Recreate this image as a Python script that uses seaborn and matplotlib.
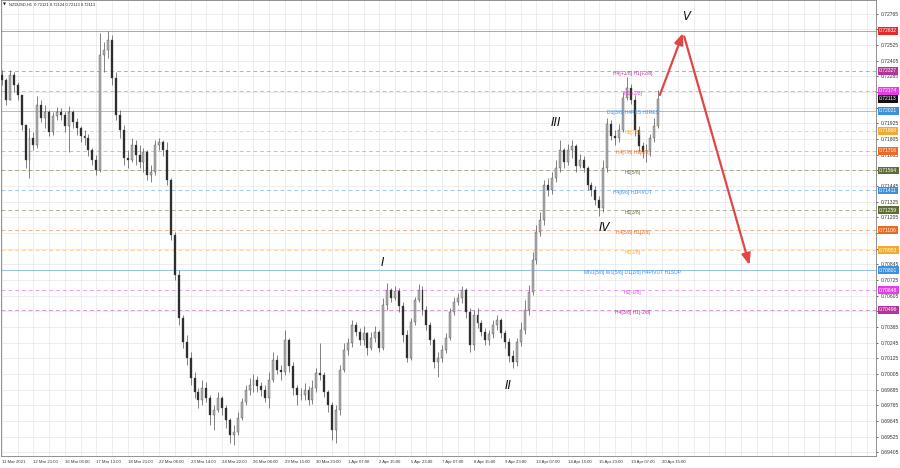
import numpy as np
import pandas as pd
import matplotlib
matplotlib.use('Agg')  # no display
import matplotlib.pyplot as plt
import matplotlib.transforms as mtransforms
from matplotlib.ticker import MultipleLocator
import seaborn as sns

# NZDUSD chart, one candle per 4 hours
TITLE = "NZDUSD,H1  0.72121 0.72124 0.72113 0.72113"
FIRST_OPEN = 0.72295

CLOSE = [
    0.72257, 0.72104, 0.72295, 0.72219, 0.72142, 0.71912, 0.71644, 0.71813, 0.71759, 0.72065,
    0.71966, 0.72012, 0.71859, 0.71981, 0.72012, 0.71989, 0.71905, 0.72012, 0.71935, 0.71889,
    0.71828, 0.71813, 0.71721, 0.71644, 0.71568, 0.72448, 0.72486, 0.72563, 0.72272, 0.71989,
    0.71874, 0.71660, 0.71644, 0.71759, 0.71682, 0.71629, 0.71705, 0.71529, 0.71552, 0.71759,
    0.71782, 0.71721, 0.71491, 0.71070, 0.70764, 0.70435, 0.70251, 0.70129, 0.69975, 0.69868,
    0.69807, 0.69899, 0.69822, 0.69692, 0.69731, 0.69822, 0.69746, 0.69654, 0.69539, 0.69562,
    0.69669, 0.69792, 0.69884, 0.69922, 0.69960, 0.69914, 0.69884, 0.69822, 0.69960, 0.70113,
    0.70037, 0.70022, 0.70266, 0.70067, 0.69899, 0.69845, 0.69845, 0.69884, 0.69807, 0.69899,
    0.70014, 0.69999, 0.69868, 0.69769, 0.69577, 0.69731, 0.70037, 0.70190, 0.70243, 0.70381,
    0.70328, 0.70266, 0.70320, 0.70205, 0.70282, 0.70328, 0.70205, 0.70535, 0.70649, 0.70589,
    0.70642, 0.70528, 0.70305, 0.70129, 0.70404, 0.70573, 0.70649, 0.70496, 0.70381, 0.70266,
    0.70098, 0.70129, 0.70190, 0.70282, 0.70482, 0.70558, 0.70589, 0.70649, 0.70482, 0.70228,
    0.70458, 0.70396, 0.70328, 0.70266, 0.70312, 0.70381, 0.70419, 0.70320, 0.70251, 0.70144,
    0.70098, 0.70251, 0.70343, 0.70496, 0.70635, 0.70879, 0.71093, 0.71185, 0.71453, 0.71415,
    0.71506, 0.71583, 0.71721, 0.71629, 0.71721, 0.71751, 0.71598, 0.71644, 0.71583, 0.71453,
    0.71415, 0.71338, 0.71277, 0.71583, 0.71920, 0.71828, 0.71813, 0.71874, 0.72119, 0.72196,
    0.72104, 0.71874, 0.71751, 0.71705, 0.71721, 0.71813, 0.71905, 0.72113]

HIGH = [
    0.72333, 0.72272, 0.72333, 0.72318, 0.72242, 0.72142, 0.71912, 0.71889, 0.71859, 0.72134,
    0.72104, 0.72065, 0.72027, 0.72012, 0.72050, 0.72042, 0.72012, 0.72058, 0.72027, 0.71966,
    0.71905, 0.71874, 0.71843, 0.71736, 0.71682, 0.72620, 0.72547, 0.72632, 0.72601, 0.72318,
    0.72027, 0.71912, 0.71721, 0.71813, 0.71797, 0.71759, 0.71736, 0.71721, 0.71606, 0.71797,
    0.71813, 0.71797, 0.71782, 0.71506, 0.71093, 0.70802, 0.70458, 0.70305, 0.70174, 0.70022,
    0.69899, 0.69960, 0.69945, 0.69845, 0.69769, 0.69868, 0.69838, 0.69769, 0.69669, 0.69616,
    0.69715, 0.69822, 0.69922, 0.69975, 0.70006, 0.69991, 0.69945, 0.69922, 0.70022, 0.70174,
    0.70151, 0.70075, 0.70343, 0.70282, 0.70098, 0.69922, 0.69899, 0.69937, 0.69914, 0.69960,
    0.70052, 0.70243, 0.70022, 0.69884, 0.69792, 0.69769, 0.70075, 0.70243, 0.70282, 0.70419,
    0.70404, 0.70358, 0.70374, 0.70328, 0.70328, 0.70374, 0.70343, 0.70589, 0.70703, 0.70665,
    0.70681, 0.70665, 0.70558, 0.70343, 0.70435, 0.70596, 0.70695, 0.70681, 0.70528, 0.70404,
    0.70282, 0.70174, 0.70228, 0.70320, 0.70512, 0.70596, 0.70626, 0.70681, 0.70665, 0.70512,
    0.70496, 0.70512, 0.70419, 0.70358, 0.70343, 0.70419, 0.70458, 0.70435, 0.70343, 0.70282,
    0.70190, 0.70282, 0.70404, 0.70573, 0.70687, 0.70940, 0.71147, 0.71246, 0.71491, 0.71506,
    0.71552, 0.71644, 0.71797, 0.71736, 0.71767, 0.71797, 0.71767, 0.71690, 0.71675, 0.71598,
    0.71476, 0.71445, 0.71369, 0.71644, 0.71966, 0.71951, 0.71874, 0.71920, 0.72165, 0.72280,
    0.72226, 0.72142, 0.71905, 0.71782, 0.71767, 0.71843, 0.71966, 0.72180]

LOW = [
    0.72219, 0.72065, 0.72104, 0.72165, 0.72104, 0.71874, 0.71583, 0.71506, 0.71721, 0.71736,
    0.71935, 0.71889, 0.71828, 0.71836, 0.71951, 0.71951, 0.71859, 0.71705, 0.71889, 0.71836,
    0.71782, 0.71759, 0.71675, 0.71606, 0.71529, 0.71552, 0.72318, 0.72425, 0.72219, 0.71951,
    0.71813, 0.71606, 0.71583, 0.71629, 0.71606, 0.71583, 0.71552, 0.71491, 0.71476, 0.71529,
    0.71721, 0.71675, 0.71453, 0.71032, 0.70726, 0.70381, 0.70205, 0.70075, 0.69922, 0.69822,
    0.69746, 0.69769, 0.69792, 0.69616, 0.69577, 0.69715, 0.69692, 0.69593, 0.69478, 0.69463,
    0.69539, 0.69654, 0.69769, 0.69845, 0.69868, 0.69868, 0.69838, 0.69792, 0.69746, 0.69945,
    0.70006, 0.69960, 0.69999, 0.70022, 0.69845, 0.69769, 0.69807, 0.69807, 0.69769, 0.69776,
    0.69868, 0.69960, 0.69830, 0.69715, 0.69501, 0.69478, 0.69692, 0.70022, 0.70151, 0.70213,
    0.70297, 0.70228, 0.70228, 0.70151, 0.70190, 0.70251, 0.70174, 0.70190, 0.70496, 0.70558,
    0.70573, 0.70482, 0.70251, 0.70098, 0.70113, 0.70381, 0.70558, 0.70458, 0.70343, 0.70228,
    0.70052, 0.69983, 0.70098, 0.70167, 0.70266, 0.70458, 0.70535, 0.70551, 0.70435, 0.70174,
    0.70190, 0.70358, 0.70297, 0.70228, 0.70228, 0.70282, 0.70343, 0.70282, 0.70205, 0.70098,
    0.70052, 0.70067, 0.70220, 0.70312, 0.70458, 0.70612, 0.70848, 0.71062, 0.71147, 0.71369,
    0.71384, 0.71476, 0.71552, 0.71583, 0.71606, 0.71660, 0.71552, 0.71583, 0.71552, 0.71415,
    0.71369, 0.71300, 0.71216, 0.71246, 0.71552, 0.71797, 0.71759, 0.71782, 0.71859, 0.72104,
    0.72073, 0.71828, 0.71705, 0.71660, 0.71629, 0.71675, 0.71782, 0.71889]

DATE_LABELS = [
    "11 Mar 2021", "12 Mar 21:00", "16 Mar 05:00", "17 Mar 13:00", "18 Mar 21:00",
    "22 Mar 06:00", "23 Mar 14:00", "24 Mar 22:00", "26 Mar 06:00", "29 Mar 15:00",
    "30 Mar 23:00", "1 Apr 07:00", "2 Apr 15:00", "5 Apr 23:00", "7 Apr 07:00",
    "8 Apr 15:00", "9 Apr 23:00", "13 Apr 07:00", "14 Apr 15:00", "15 Apr 23:00",
    "19 Apr 07:00", "20 Apr 15:00"]

PRICE_TICKS = [
    0.72765, 0.72645, 0.72525, 0.72405, 0.72285, 0.72165, 0.72045, 0.71925, 0.71805, 0.71685,
    0.71565, 0.71445, 0.71325, 0.71205, 0.71085, 0.70965, 0.70845, 0.70725, 0.70605, 0.70485,
    0.70365, 0.70245, 0.70125, 0.70005, 0.69885, 0.69765, 0.69645, 0.69525, 0.69405]

# Murrey-math style levels
LEVEL_PRICES = [0.72632, 0.72327, 0.72174, 0.72021, 0.71868, 0.71716, 0.71564, 0.71411,
                0.71259, 0.71106, 0.70953, 0.70801, 0.70648, 0.70496]
LEVEL_TEXT = ["", "H4[+1/8] H1[+2/8]", "H1[+1/8]", "D1[3/8] H4RES H1RES", "H1[7/8]",
              "H4[7/8] H1[6/8]", "H1[5/8]", "H4[6/8] H1PIVOT", "H1[3/8]", "H4[5/8] H1[2/8]",
              "H1[1/8]", "MN1[5/8] W1[5/8] D1[2/8] H4PIVOT H1SUP", "H1[-1/8]", "H4[3/8] H1[-2/8]"]
CURRENT_PRICE = 0.72113

WAVE_TEXT = ["I", "II", "III", "IV", "V"]

# styles
RED, PURPLE, MAGENTA = '#e8282a', '#b4359a', '#e93ce9'
BLUE, ORANGE, ORANGE_RED, OLIVE = '#3d8fe0', '#f3a92e', '#ea6a22', '#5f6e32'
LEVEL_COLORS = [RED, PURPLE, MAGENTA, BLUE, ORANGE, ORANGE_RED, OLIVE, BLUE,
                OLIVE, ORANGE_RED, ORANGE, BLUE, MAGENTA, PURPLE]
LEVEL_SOLID = [True, False, False, True, False, False, False, False,
               False, False, False, True, False, False]
LABEL_X = 160.5
WAVE_POS = [(96.9, 0.70863), (128.8, 0.69914), (141.0, 0.71935), (153.4, 0.71124), (174.0, 0.72739)]
ARROWS = [((167.4, 0.72142), (173.3, 0.72616)), ((173.6, 0.72590), (190.2, 0.70840))]

assert len(CLOSE) == len(HIGH) == len(LOW)

df = pd.DataFrame({'close': CLOSE, 'high': HIGH, 'low': LOW})
df['open'] = [FIRST_OPEN] + CLOSE[:-1]
df['up'] = df['close'] >= df['open']

sns.set_theme(style='white')
plt.rcParams['font.family'] = ['Liberation Sans', 'DejaVu Sans']

fig = plt.figure(figsize=(9, 4.68), dpi=100)
ax = fig.add_axes([1 / 900, 12 / 468, 875 / 900, 456 / 468])
ax.set_facecolor('white')

# candles
x = df.index.values
ax.vlines(x, df['low'], df['high'], colors='#505050', lw=0.5, zorder=3)
body_bottom = np.minimum(df['open'], df['close'])
body_h = np.maximum(np.abs(df['close'] - df['open']), 0.00003)
body_col = np.where(df['up'], '#b0b0b0', '#2a2a2a')
ax.bar(x, body_h, bottom=body_bottom, width=0.5, color=body_col,
       edgecolor='#444444', linewidth=0.25, zorder=4)

# level lines + labels
blend = mtransforms.blended_transform_factory(ax.transAxes, ax.transData)
box_prices = LEVEL_PRICES + [CURRENT_PRICE]
for price, txt, col, solid in zip(LEVEL_PRICES, LEVEL_TEXT, LEVEL_COLORS, LEVEL_SOLID):
    if solid:
        ax.axhline(price, color=col, lw=0.7, alpha=0.55, zorder=2)
    else:
        ax.axhline(price, color=col, lw=0.7, alpha=0.5, ls=(0, (4, 3)), zorder=2)
    if txt:
        ax.annotate(txt, (LABEL_X, price), xytext=(0, -1.6), textcoords='offset points',
                    ha='center', va='center', fontsize=3.6, color=col, zorder=6)
    ax.text(1.0035, price, f'{price:.5f}', transform=blend, fontsize=3.6, color='white',
            ha='left', va='center', clip_on=False, zorder=10,
            bbox=dict(boxstyle='square,pad=0.28', fc=col, ec='none'))
ax.text(1.0035, CURRENT_PRICE, f'{CURRENT_PRICE:.5f}', transform=blend, fontsize=3.6,
        color='white', ha='left', va='center', clip_on=False, zorder=10,
        bbox=dict(boxstyle='square,pad=0.28', fc='#111111', ec='none'))

# elliott wave count and forecast arrows
for txt, (wx, wy) in zip(WAVE_TEXT, WAVE_POS):
    ax.text(wx, wy, txt, style='italic', fontsize=8.5, color='#111111',
            ha='center', va='center', zorder=7, family=['DejaVu Sans'])
for start, end in ARROWS:
    ax.annotate('', xy=end, xytext=start, zorder=8,
                arrowprops=dict(arrowstyle='-|>,head_length=0.55,head_width=0.22',
                                color='#e04646', lw=1.6, shrinkA=0, shrinkB=0))

# axes, ticks, grid; price labels hidden behind a level box are left blank
ax.set_xlim(-0.25, 222.4)
ax.set_ylim(0.69378, 0.72869)
ax.yaxis.tick_right()
ax.set_yticks(PRICE_TICKS)
ytl = []
for v in PRICE_TICKS:
    hidden = min(abs(v - b) for b in box_prices) < 0.00026
    ytl.append('' if hidden else f'{v:.5f}')
ax.set_yticklabels(ytl)
ax.set_xticks(np.arange(len(DATE_LABELS)) * 8)
ax.set_xticklabels(DATE_LABELS, ha='left')
ax.xaxis.set_minor_locator(MultipleLocator(4))
ax.tick_params(axis='y', labelsize=3.6, length=1.5, pad=1.8, colors='#333333', width=0.5)
ax.tick_params(axis='x', which='major', labelsize=3.1, length=2, pad=1.2, colors='#333333', width=0.5)
ax.tick_params(axis='x', which='minor', length=0)
ax.grid(axis='x', which='both', color='#e6e6e6', lw=0.5, zorder=0)
ax.grid(axis='y', color='#e6e6e6', lw=0.5, zorder=0)
ax.set_axisbelow(True)
for s in ax.spines.values():
    s.set_color('#808080')
    s.set_linewidth(0.6)

fig.text(3 / 900, 1 - 5 / 468, '\u25bc', fontsize=2.8, color='#222222', va='center', family=['DejaVu Sans'])
fig.text(9 / 900, 1 - 5 / 468, TITLE, fontsize=2.9, color='#222222', va='center')

fig.savefig('out.png', dpi=100, facecolor='white')
